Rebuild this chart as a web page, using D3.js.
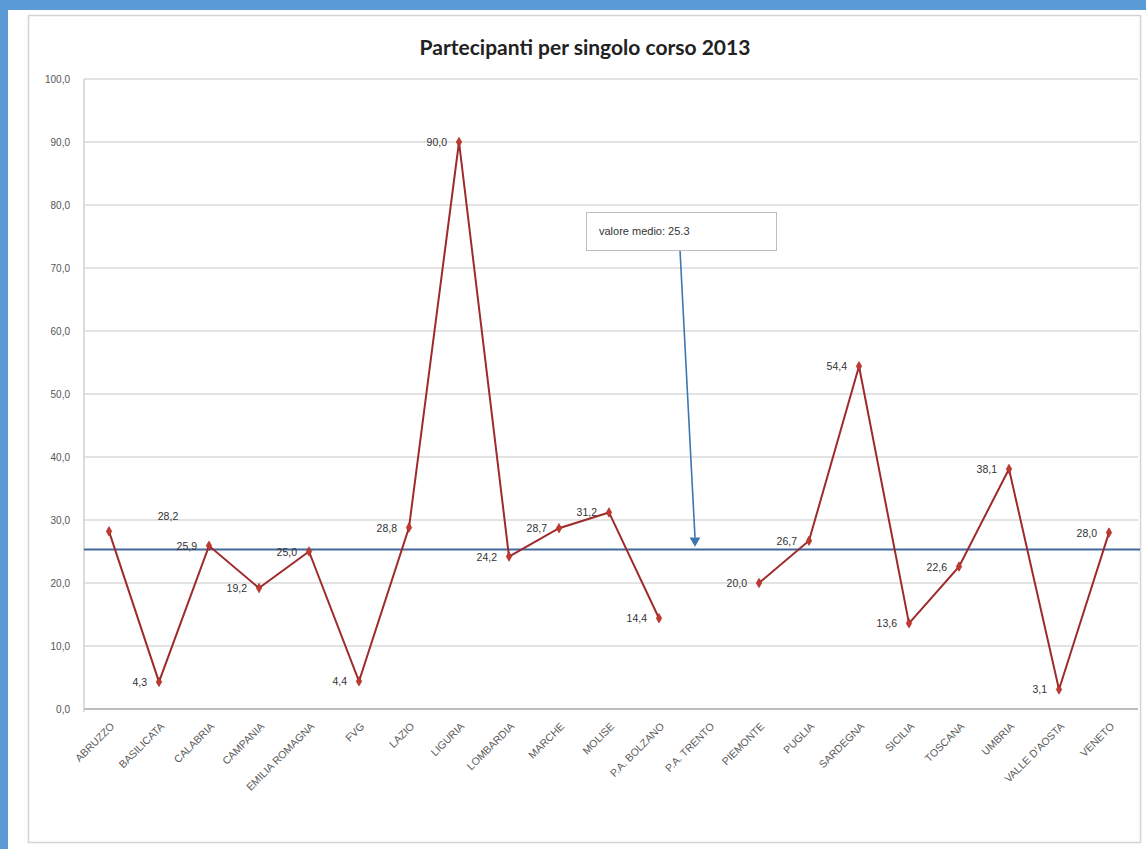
<!DOCTYPE html>
<html><head><meta charset="utf-8">
<script src="https://cdn.jsdelivr.net/npm/d3@7"></script>
<style>body{margin:0;background:#5b9bd5;}svg{display:block;}</style>
</head><body>
<svg id="c" width="1146" height="849"></svg>
<script>
const categories = ["ABRUZZO","BASILICATA","CALABRIA","CAMPANIA","EMILIA ROMAGNA","FVG","LAZIO","LIGURIA","LOMBARDIA","MARCHE","MOLISE","P.A. BOLZANO","P.A. TRENTO","PIEMONTE","PUGLIA","SARDEGNA","SICILIA","TOSCANA","UMBRIA","VALLE D'AOSTA","VENETO"];
const values = [28.2,4.3,25.9,19.2,25.0,4.4,28.8,90.0,24.2,28.7,31.2,14.4,null,20.0,26.7,54.4,13.6,22.6,38.1,3.1,28.0];
const meanValue = 25.3;
const yTicks = [0,10,20,30,40,50,60,70,80,90,100];
const title = "Partecipanti per singolo corso 2013";
const annotation = "valore medio: 25.3";

const svg = d3.select("#c");
const fmt = v => d3.format(".1f")(v).replace(".", ",");

// frame
svg.append("rect").attr("x",8).attr("y",10).attr("width",1138).attr("height",839).attr("fill","#fff");
svg.append("rect").attr("x",28.5).attr("y",15.5).attr("width",1112).attr("height",827).attr("fill","#fff").attr("stroke","#d4d4d4").attr("stroke-width",1.5);

const x = d3.scaleBand().domain(categories).range([84,1134]).padding(0);
const cx = c => x(c) + x.bandwidth()/2;
const y = d3.scaleLinear().domain([0,100]).range([709,79]);

// gridlines
svg.append("g").selectAll("line").data(yTicks).join("line")
  .attr("x1",84).attr("x2",1138).attr("y1",d=>y(d)).attr("y2",d=>y(d))
  .attr("stroke",d=>d===0?"#bdbdbd":"#c8c8c8").attr("stroke-width",d=>d===0?2:1.2);
svg.append("line").attr("x1",84).attr("x2",84).attr("y1",y(100)).attr("y2",y(0)+3).attr("stroke","#d0d0d0").attr("stroke-width",1.5);

// y axis labels
const yAxis = d3.axisLeft(y).tickValues(yTicks).tickFormat(fmt).tickSize(0).tickPadding(14);
const ya = svg.append("g").attr("transform","translate(84,0)").call(yAxis);
ya.select(".domain").remove();
ya.selectAll("text").attr("font-family","Liberation Sans, Arial, sans-serif").attr("font-size",10).attr("fill","#555");

// x axis labels
const xAxis = d3.axisBottom(x).tickSize(0).tickPadding(0);
const xa = svg.append("g").attr("transform","translate(0,"+y(0)+")").call(xAxis);
xa.select(".domain").remove();
xa.selectAll("text")
  .attr("font-family","Liberation Sans, Arial, sans-serif").attr("font-size",10.5).attr("fill","#5a5a5a")
  .attr("text-anchor","end").attr("dy",null).attr("y",0)
  .attr("transform","translate(6,18) rotate(-45)");

// mean line
svg.append("line").attr("x1",84).attr("x2",1140).attr("y1",y(meanValue)).attr("y2",y(meanValue))
  .attr("stroke","#41699c").attr("stroke-width",2);

// data line
const line = d3.line().defined(d=>d.v!==null).x(d=>cx(d.c)).y(d=>y(d.v));
const pts = categories.map((c,i)=>({c, v: values[i]}));
svg.append("path").datum(pts).attr("d",line).attr("fill","none").attr("stroke","#9e2a2b").attr("stroke-width",2);
svg.append("g").selectAll("path").data(pts.filter(d=>d.v!==null)).join("path")
  .attr("d", d3.symbol(d3.symbolDiamond, 26))
  .attr("transform", d=>`translate(${cx(d.c)},${y(d.v)})`)
  .attr("fill","#c0392b").attr("stroke","#a02828").attr("stroke-width",0.6);

// data labels
const special = {"ABRUZZO":[59,-15]};
svg.append("g").selectAll("text").data(pts.filter(d=>d.v!==null)).join("text")
  .attr("x", d=> special[d.c] ? cx(d.c)+special[d.c][0] : cx(d.c)-12)
  .attr("y", d=> y(d.v) + (special[d.c] ? special[d.c][1] : 0) + 4)
  .attr("text-anchor", d=> special[d.c] ? "middle" : "end")
  .attr("font-family","Liberation Sans, Arial, sans-serif").attr("font-size",10.5).attr("fill","#333")
  .text(d=>fmt(d.v));

// annotation box + arrow
const boxX = 586, boxY = 212, boxW = 190, boxH = 38;
svg.append("line").attr("x1",680).attr("y1",boxY+boxH).attr("x2",cx("P.A. TRENTO")-14).attr("y2",y(meanValue)-12)
  .attr("stroke","#3d77b0").attr("stroke-width",1.6);
svg.append("path").attr("d", d3.symbol(d3.symbolTriangle, 50))
  .attr("transform",`translate(${cx("P.A. TRENTO")-14},${y(meanValue)-9}) rotate(180)`)
  .attr("fill","#3d77b0");
svg.append("rect").attr("x",boxX+.5).attr("y",boxY+.5).attr("width",boxW).attr("height",boxH)
  .attr("fill","#fff").attr("stroke","#bdbdbd");
svg.append("text").attr("x",boxX+13).attr("y",boxY+23)
  .attr("font-family","Liberation Sans, Arial, sans-serif").attr("font-size",11).attr("fill","#333")
  .text(annotation);

// title
svg.append("text").attr("x",585).attr("y",55).attr("text-anchor","middle")
  .attr("font-family","Lato, 'Open Sans', sans-serif").attr("font-weight","bold").attr("font-size",21).attr("fill","#222")
  .text(title);
</script>
</body></html>
